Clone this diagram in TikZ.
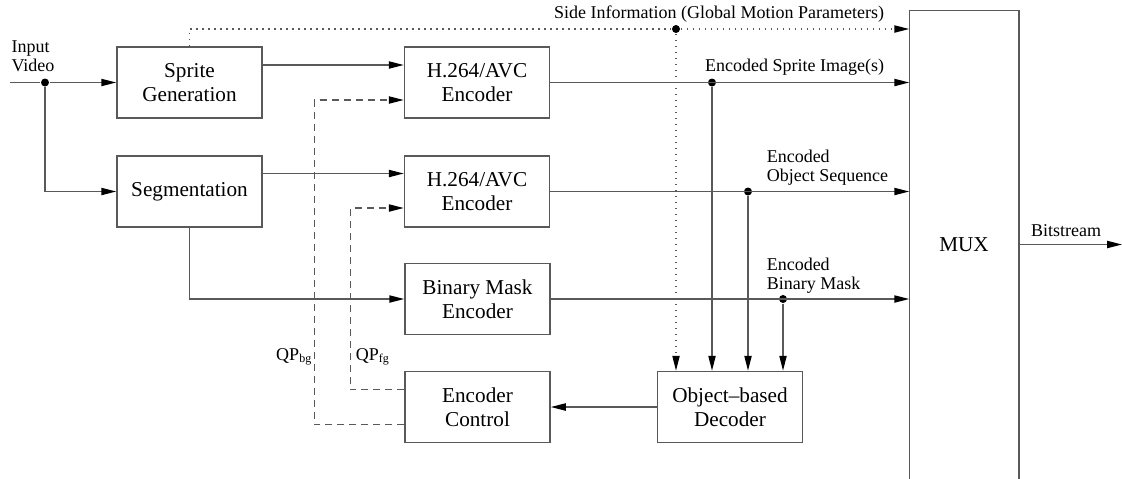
\documentclass[tikz,border=0pt]{standalone}
\usepackage{fontspec}
\setmainfont{Liberation Serif}
\usepackage{tikz}
\usetikzlibrary{arrows.meta,calc}
\newcommand{\boxfont}{\fontsize{10.6}{12}\selectfont}
\newcommand{\lblfont}{\fontsize{9}{9.6}\selectfont}

\begin{document}
\begin{tikzpicture}[x=0.5pt,y=-0.5pt,
 line width=0.75pt,draw=black!65,
 bx/.style={draw=black!65,align=center,inner sep=2pt,font=\boxfont},
 blk/.style={bx,minimum width=72.5pt,minimum height=35.5pt},
 lbl/.style={align=left,inner sep=0pt,font=\lblfont},
 ar/.style={-{Triangle[length=7.5pt,width=3.6pt,black]}},
 qp/.style={dash pattern=on 3.5pt off 2.5pt},
 si/.style={dash pattern=on 0.75pt off 2.25pt},
 dot/.style={circle,fill=black,inner sep=0pt,minimum size=4pt}]
\useasboundingbox (0,0) rectangle (1122,478);
% blocks
\node[blk] (sg)   at (189.5,82.5) {Sprite\\ Generation};
\node[blk] (seg)  at (189.5,191.5) {Segmentation};
\node[blk] (enc1) at (477,82.5)  {H.264/AVC\\ Encoder};
\node[blk] (enc2) at (477,191.5) {H.264/AVC\\ Encoder};
\node[blk] (bme)  at (477.5,299) {Binary Mask\\ Encoder};
\node[blk] (ctrl) at (477.5,407) {Encoder\\ Control};
\node[blk] (dec)  at (730,407)   {Object--based\\ Decoder};
\node[bx,draw=none,minimum width=54pt,minimum height=233.5pt] (mux) at (964,244.5) {MUX};
\draw (mux.south west) -- (mux.north west) -- (mux.north east) -- (mux.south east);
% branch points
\coordinate (in) at (10,82.5);
\node[dot] (split) at (45,82.5) {};
\node[dot] (side) at (676,29) {};
\node[dot] (tapS) at (712,82.5) {};
\node[dot] (tapO) at (748,191.5) {};
\node[dot] (tapB) at (783,299) {};
\coordinate (out) at (1122,244.5);
% labels
\node[lbl] (inlbl) at (33,56) {Input\\ Video};
\node[lbl] (silbl) at (719,14) {Side Information (Global Motion Parameters)};
\node[lbl] (eslbl) at (794.5,67) {Encoded Sprite Image(s)};
\node[lbl,anchor=west] (eolbl) at (766,168) {Encoded\\ Object Sequence};
\node[lbl,anchor=west] (eblbl) at (766,276) {Encoded\\ Binary Mask};
\node[lbl] (bslbl) at (1066,231) {Bitstream};
\node[lbl,anchor=east] (qpbg) at (313,357) {QP\textsubscript{bg}};
\node[lbl,anchor=west] (qpfg) at (355,357) {QP\textsubscript{fg}};
% input side
\draw (in) -- (split);
\draw[ar] (split) -- (sg);
\draw[ar] (split) |- (seg);
\draw[ar] ([yshift=8.75pt]sg.east) -- ([yshift=8.75pt]enc1.west);
\draw[ar] ([yshift=9pt]seg.east) -- ([yshift=9pt]enc2.west);
\draw[ar] (seg.south) |- (bme.west);
% side information
\draw[si] (sg.north) |- (side);
\draw[si,ar] (side) -- (side -| mux.west);
\draw[si,ar] (side) -- (side |- dec.north);
% encoded streams to the mux
\draw[ar] (enc1.east) -- (enc1.east -| mux.west);
\draw[ar] (enc2.east) -- (enc2.east -| mux.west);
\draw[ar] (bme.east) -- (bme.east -| mux.west);
\draw[ar] (tapS) -- (tapS |- dec.north);
\draw[ar] (tapO) -- (tapO |- dec.north);
\draw[ar] (tapB) -- (tapB |- dec.north);
\draw[ar] (mux.east) -- (out);
% rate control loop
\draw[ar] (dec) -- (ctrl);
\draw[qp,ar] ([yshift=-8.75pt]ctrl.west) -- ++(-90,0) |- ([yshift=-8.75pt]enc1.west);
\draw[qp,ar] ([yshift=8.75pt]ctrl.west) -- ++(-54,0) |- ([yshift=-8.25pt]enc2.west);
\end{tikzpicture}
\end{document}
